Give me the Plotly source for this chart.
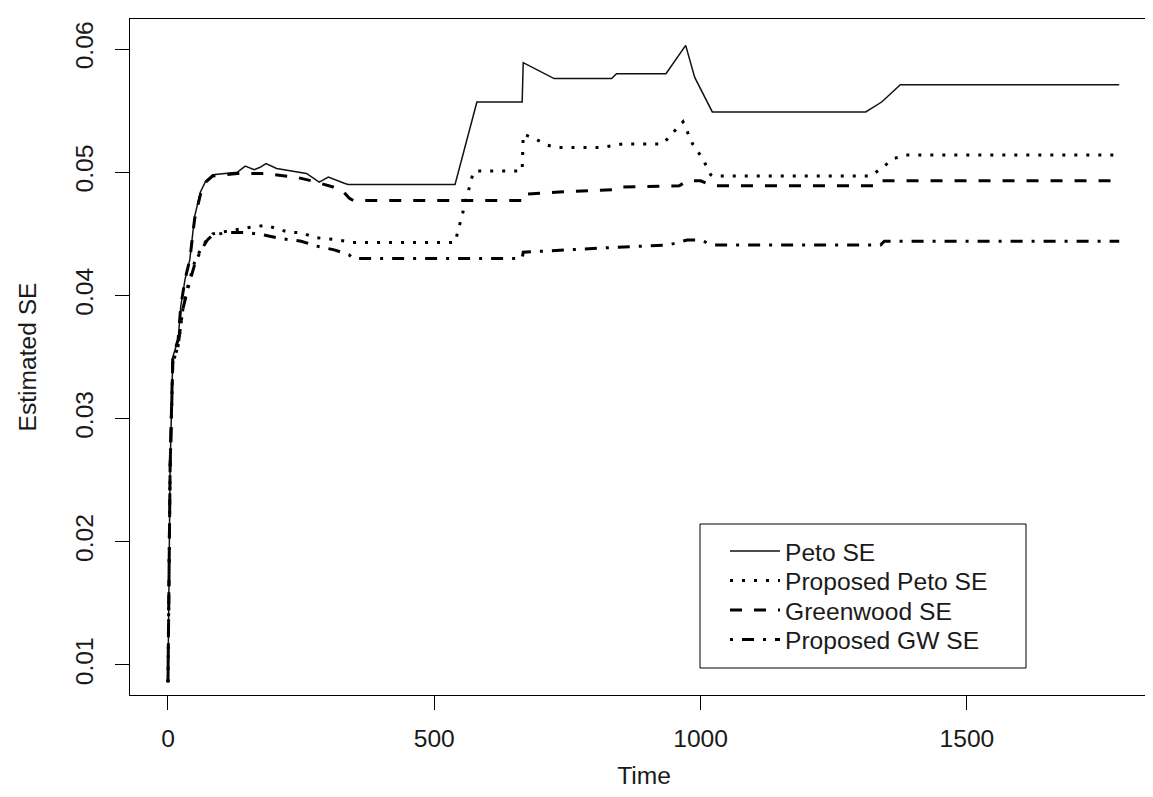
import plotly.graph_objects as go

# ---- data ----
peto_t = [0, 1, 2, 3, 4, 9, 19, 24, 32, 41, 50, 61, 71, 84, 130, 145, 162, 173, 184, 204,
          260, 284, 301, 331, 338, 539, 580, 665, 667, 725, 833, 842, 935, 972, 989, 1022,
          1310, 1340, 1375, 1786]
peto_v = [0.0086, 0.0150, 0.0200, 0.0242, 0.0260, 0.0350, 0.0364, 0.0391, 0.0413, 0.0429,
          0.0464, 0.0484, 0.0493, 0.0498, 0.0500, 0.0505, 0.0502, 0.0504, 0.0507, 0.0503,
          0.0499, 0.0492, 0.0496, 0.0491, 0.0490, 0.0490, 0.0557, 0.0557, 0.0589, 0.0576,
          0.0576, 0.0580, 0.0580, 0.0603, 0.0577, 0.0549, 0.0549, 0.0557, 0.0571, 0.0571]

ppeto_t = [0, 1, 2, 3, 4, 9, 19, 28, 37, 50, 61, 74, 84, 110, 150, 185, 205, 230, 250, 275,
           300, 320, 345, 539, 572, 575, 665, 667, 690, 712, 730, 812, 855, 929, 967, 985,
           1004, 1019, 1022, 1320, 1345, 1362, 1385, 1786]
ppeto_v = [0.0086, 0.0150, 0.0200, 0.0242, 0.0260, 0.0345, 0.0359, 0.0389, 0.0407, 0.0427,
           0.0437, 0.0446, 0.0450, 0.0452, 0.0455, 0.0457, 0.0454, 0.0451, 0.0451, 0.0447,
           0.0446, 0.0445, 0.0443, 0.0443, 0.0498, 0.0501, 0.0501, 0.0531, 0.0527, 0.0522,
           0.0520, 0.0520, 0.0523, 0.0523, 0.0541, 0.0523, 0.0511, 0.0498, 0.0497, 0.0497,
           0.0505, 0.0511, 0.0514, 0.0514]

gw_t = [0, 1, 2, 3, 4, 9, 19, 24, 32, 41, 50, 61, 71, 84, 130, 180, 205, 240, 270, 295,
        310, 330, 340, 348, 665, 667, 735, 840, 850, 960, 975, 1000, 1022, 1333, 1340, 1786]
gw_v = [0.0086, 0.0150, 0.0200, 0.0242, 0.0260, 0.0350, 0.0364, 0.0391, 0.0413, 0.0429,
        0.0462, 0.0482, 0.0492, 0.0497, 0.0499, 0.0499, 0.0498, 0.0496, 0.0493, 0.0490,
        0.0488, 0.0484, 0.0479, 0.0477, 0.0477, 0.0482, 0.0484, 0.0486, 0.0488, 0.0489,
        0.0493, 0.0493, 0.0489, 0.0489, 0.0493, 0.0493]

pgw_t = [0, 1, 2, 3, 4, 9, 19, 28, 37, 50, 61, 74, 84, 110, 150, 180, 215, 250, 280, 312,
         340, 348, 665, 667, 700, 750, 840, 900, 940, 975, 1000, 1022, 1338, 1345, 1786]
pgw_v = [0.0086, 0.0150, 0.0200, 0.0242, 0.0260, 0.0345, 0.0359, 0.0389, 0.0405, 0.0425,
         0.0436, 0.0445, 0.0449, 0.0451, 0.0451, 0.0449, 0.0446, 0.0444, 0.0440, 0.0437,
         0.0433, 0.0430, 0.0430, 0.0435, 0.0436, 0.0437, 0.0439, 0.0440, 0.0441, 0.0445,
         0.0445, 0.0441, 0.0441, 0.0444, 0.0444]

series_names = ["Peto SE", "Proposed Peto SE", "Greenwood SE", "Proposed GW SE"]
x_ticks = [0, 500, 1000, 1500]
y_ticks = [0.01, 0.02, 0.03, 0.04, 0.05, 0.06]

FONT = "Liberation Sans, Arial, sans-serif"
TXT = "#1a1a1a"
FS = 24.6

# plot area in pixels
L, R, T, B = 122, 1150, 11, 687
W, H = 1153, 797


def px_to_paper_x(px):
    return (px - L) / (R - L)


def px_to_paper_y(py):
    return (B - py) / (B - T)


styles = [
    dict(color="#111111", width=1.5, dash="solid"),
    dict(color="black", width=3, dash="3px,9px"),
    dict(color="black", width=3, dash="12px,12px"),
    dict(color="black", width=3, dash="3px,9px,12px,9px"),
]
xs = [peto_t, ppeto_t, gw_t, pgw_t]
ys = [peto_v, ppeto_v, gw_v, pgw_v]
legend_ids = ["legend", "legend2", "legend3", "legend4"]
legend_rows = [543, 572.5, 602, 631.5]

fig = go.Figure()
for i in range(4):
    fig.add_trace(go.Scatter(x=xs[i], y=ys[i], mode="lines", name=series_names[i],
                             line=styles[i], legend=legend_ids[i]))

legend_common = dict(xanchor="left", yanchor="middle", bgcolor="rgba(0,0,0,0)",
                     borderwidth=0, font=dict(family=FONT, size=FS, color=TXT),
                     itemwidth=50, tracegroupgap=0)
layout_legends = {}
for lid, row in zip(legend_ids, legend_rows):
    layout_legends[lid] = dict(x=px_to_paper_x(717), y=px_to_paper_y(row), **legend_common)

fig.update_layout(
    width=W, height=H,
    margin=dict(l=L, r=W - R, t=T, b=H - B, autoexpand=False),
    paper_bgcolor="white", plot_bgcolor="white",
    font=dict(family=FONT, size=FS, color=TXT),
    showlegend=True,
    shapes=[dict(type="rect", xref="paper", yref="paper",
                 x0=px_to_paper_x(692), x1=px_to_paper_x(1018),
                 y0=px_to_paper_y(660), y1=px_to_paper_y(516),
                 line=dict(color="black", width=1), fillcolor="white", layer="below")],
    **layout_legends,
)
fig.update_xaxes(
    range=[-71.3, 1858.8], tickmode="array", tickvals=x_ticks,
    ticktext=[str(v) for v in x_ticks], automargin=False,
    showgrid=False, zeroline=False, showline=True, mirror=True,
    linecolor="black", linewidth=1, ticks="outside", ticklen=14,
    tickcolor="black", ticklabelstandoff=7,
    title=dict(text="Time", standoff=16, font=dict(family=FONT, size=FS)),
)
fig.update_yaxes(
    range=[0.00756, 0.06244], tickmode="array", tickvals=y_ticks,
    ticktext=[f"{v:.2f}" for v in y_ticks], tickangle=-90, automargin=False,
    showgrid=False, zeroline=False, showline=True, mirror=True,
    linecolor="black", linewidth=1, ticks="outside", ticklen=14,
    tickcolor="black", ticklabelstandoff=12,
    title=dict(text="Estimated SE", standoff=27, font=dict(family=FONT, size=FS)),
)

fig.write_html("out.html")
